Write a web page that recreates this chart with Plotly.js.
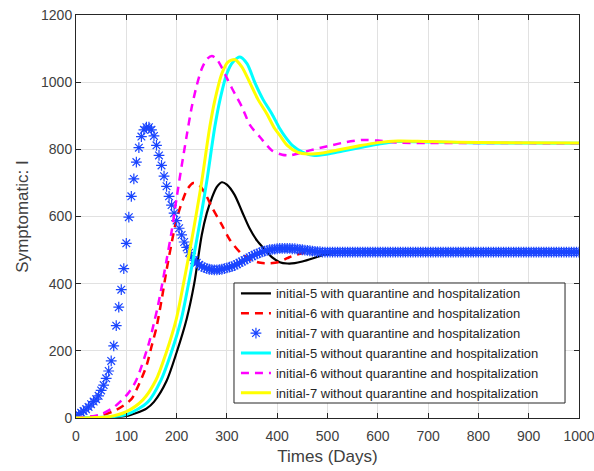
<!DOCTYPE html>
<html>
<head>
<meta charset="utf-8">
<script src="https://cdn.plot.ly/plotly-3.0.1.min.js"></script>
<style>html,body{margin:0;padding:0;background:#fff;}#chart{width:594px;height:471px;}</style>
</head>
<body>
<div id="chart"></div>
<script>
// ---- data ----
const seriesNames = [
  "initial-5 with quarantine and hospitalization",
  "initial-6 with quarantine and hospitalization",
  "initial-7 with quarantine and hospitalization",
  "initial-5 without quarantine and hospitalization",
  "initial-6 without quarantine and hospitalization",
  "initial-7 without quarantine and hospitalization"
];

// initial-5 with Q&H (black)
const blackX = [0,50,100,120,140,155,180,200,220,235,250,260,270,280,290,300,315,330,345,360,375,390,405,420,435,450,470,490,510,540,580,650,750,850,1000];
const blackY = [0,1,6,15,28,48,110,195,295,400,545,610,655,688,702,695,665,615,565,528,502,478,464,460,461,466,475,485,491,494,495,495,495,495,495];

// initial-6 with Q&H (red dashed)
const redX = [0,50,80,110,125,140,150,160,170,180,190,200,212,222,233,245,258,270,290,306,330,350,367,385,402,420,435,465,500,600,1000];
const redY = [0,8,24,56,100,155,212,270,350,440,520,592,648,683,700,693,665,628,575,530,488,470,462,461,464,476,485,494,495,494,494];

// initial-7 with Q&H (blue stars), every 5 days
const blueX = [0,5,10,15,20,25,30,35,40,45,50,55,60,65,70,75,80,85,90,95,100,105,110,115,120,125,130,135,140,145,150,155,160,165,170,175,180,185,190,195,200,205,210,215,220,225,230,235,240,245,250,255,260,265,270,275,280,285,290,295,300,305,310,315,320,325,330,335,340,345,350,355,360,365,370,375,380,385,390,395,400,405,410,415,420,425,430,435,440,445,450,455,460,465,470,475,480,485,490,495,500,505,510,515,520,525,530,535,540,545,550,555,560,565,570,575,580,585,590,595,600,605,610,615,620,625,630,635,640,645,650,655,660,665,670,675,680,685,690,695,700,705,710,715,720,725,730,735,740,745,750,755,760,765,770,775,780,785,790,795,800,805,810,815,820,825,830,835,840,845,850,855,860,865,870,875,880,885,890,895,900,905,910,915,920,925,930,935,940,945,950,955,960,965,970,975,980,985,990,995,1000];
const blueY = [5,10,16,21,26,33,41,49,56,66,82,98,118,140,170,215,275,330,382,445,520,598,660,712,762,805,838,858,866,866,858,840,812,782,752,720,690,660,634,610,588,565,545,524,508,492,480,470,462,456,451,448,445,443,442,441,441,442,443,445,447,449,451,454,458,462,466,470,474,478,482,486,489,492,495,497,499,501,502,503,504,505,505,505,505,505,504,504,503,502,501,500,499,498,497,496,495,495,494,494,494,494,494,494,494,494,494,494,494,494,494,494,494,494,494,494,494,494,494,494,494,494,494,494,494,494,494,494,494,494,494,494,494,494,494,494,494,494,494,494,494,494,494,494,494,494,494,494,494,494,494,494,494,494,494,494,494,494,494,494,494,494,494,494,494,494,494,494,494,494,494,494,494,494,494,494,494,494,494,494,494,494,494,494,494,494,494,494,494,494,494,494,494,494,494,494,494,494,494,494,494];

// initial-5 without Q&H (cyan)
const cyanX = [0,50,100,143,169,189,209,225,240,250,260,276,286,300,312,326,340,356,372,389,405,416,430,450,471,500,530,571,600,638,700,800,1000];
const cyanY = [0,2,10,48,113,193,292,410,530,615,705,867,946,1026,1060,1075,1055,997,948,907,862,837,812,792,782,786,795,807,815,823,822,819,818];

// initial-6 without Q&H (magenta dashed)
const magX = [0,46,76,104,120,145,155,163,171,180,190,200,210,220,230,240,250,260,270,280,290,300,310,330,346,366,390,410,425,445,465,500,538,571,600,640,700,800,1000];
const magY = [0,9,33,74,113,223,283,335,396,470,555,655,750,840,925,990,1040,1068,1078,1068,1043,1012,982,926,872,836,796,784,782,789,797,809,822,828,826,820,819,819,818];

// initial-7 without Q&H (yellow)
const yelX = [0,30,66,99,133,159,179,199,215,230,240,250,266,276,290,302,316,330,346,362,379,395,406,420,440,461,490,520,561,600,640,700,800,1000];
const yelY = [0,1,4,18,54,113,193,292,410,530,615,705,867,946,1026,1060,1067,1045,997,948,907,862,840,812,792,786,789,798,810,820,825,823,820,819];

const xTickVals = [0,100,200,300,400,500,600,700,800,900,1000];
const yTickVals = [0,200,400,600,800,1000,1200];

// ---- traces ----
const dashPat = '8px,6px';
const traces = [
  {x: blackX, y: blackY, name: seriesNames[0], mode: 'lines', line: {color: '#000000', width: 2.2, shape: 'spline', smoothing: 0.8}},
  {x: redX, y: redY, name: seriesNames[1], mode: 'lines', line: {color: '#ff0000', width: 2.5, dash: dashPat, shape: 'spline', smoothing: 0.8}},
  {x: blueX, y: blueY, name: seriesNames[2], mode: 'markers', marker: {symbol: 'asterisk-open', size: 9, color: '#1a45ff', line: {color: '#1a45ff', width: 1.2}}},
  {x: cyanX, y: cyanY, name: seriesNames[3], mode: 'lines', line: {color: '#00ffff', width: 3, shape: 'spline', smoothing: 0.8}},
  {x: magX, y: magY, name: seriesNames[4], mode: 'lines', line: {color: '#ff00ff', width: 2.5, dash: dashPat, shape: 'spline', smoothing: 0.8}},
  {x: yelX, y: yelY, name: seriesNames[5], mode: 'lines', line: {color: '#ffff00', width: 3, shape: 'spline', smoothing: 0.8}}
];

const axisCommon = {
  ticks: 'inside', ticklen: 5, tickwidth: 1, tickcolor: '#262626',
  showline: true, linecolor: '#262626', linewidth: 1, mirror: 'ticks',
  showgrid: true, gridcolor: '#e1e1e1', gridwidth: 1, zeroline: false,
  ticklabeloverflow: 'allow',
  tickfont: {family: 'Liberation Sans, Arial, sans-serif', size: 14, color: '#404040'}
};

const layout = {
  width: 594, height: 471,
  margin: {l: 76, r: 15, t: 15, b: 53},
  paper_bgcolor: '#ffffff', plot_bgcolor: '#ffffff',
  font: {family: 'Liberation Sans, Arial, sans-serif', color: '#404040'},
  showlegend: true,
  xaxis: Object.assign({}, axisCommon, {
    range: [0, 1000], tickmode: 'array', tickvals: xTickVals, ticklabelstandoff: 5,
    title: {text: 'Times (Days)', font: {size: 17, color: '#404040'}, standoff: 7}
  }),
  yaxis: Object.assign({}, axisCommon, {
    range: [0, 1200], tickmode: 'array', tickvals: yTickVals,
    title: {text: 'Symptomatic: I', font: {size: 17, color: '#404040'}, standoff: 8}
  }),
  // legend frame (MATLAB-style box, wider than Plotly's own)
  shapes: [{
    type: 'rect', xref: 'paper', yref: 'paper', layer: 'above',
    x0: 0.3141, x1: 0.9722, y0: 0.0372, y1: 0.335,
    fillcolor: '#ffffff', line: {color: '#262626', width: 1}
  }],
  legend: {
    x: 0.318, y: 0.3465, xanchor: 'left', yanchor: 'top',
    bgcolor: 'rgba(0,0,0,0)', borderwidth: 0,
    font: {family: 'Liberation Sans, Arial, sans-serif', size: 13, color: '#262626'},
    tracegroupgap: 0, itemwidth: 30
  }
};

Plotly.newPlot('chart', traces, layout, {staticPlot: true, displayModeBar: false});
</script>
</body>
</html>
